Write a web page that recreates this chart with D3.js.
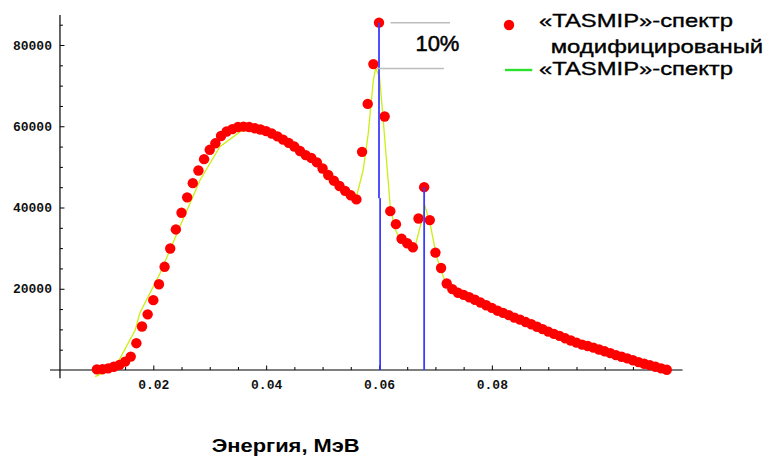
<!DOCTYPE html>
<html>
<head>
<meta charset="utf-8">
<script src="https://cdn.jsdelivr.net/npm/d3@7"></script>
<style>
  html, body { margin: 0; padding: 0; background: #fff; }
  svg { display: block; }
</style>
</head>
<body>
<svg id="chart" width="770" height="461"></svg>
<script>
// Photon energies of the modified spectrum points, keV
const dotEnergyKeV = [
  10, 11, 12, 13, 14, 15, 16, 17, 18, 19,
  20, 21, 22, 23, 24, 25, 26, 27, 28, 29,
  30, 31, 32, 33, 34, 35, 36, 37, 38, 39,
  40, 41, 42, 43, 44, 45, 46, 47, 48, 49,
  50, 51, 52, 53, 54, 55, 56, 57, 58, 59,
  60, 61, 62, 63, 64, 65, 66, 67, 68, 69,
  70, 71, 72, 73, 74, 75, 76, 77, 78, 79,
  80, 81, 82, 83, 84, 85, 86, 87, 88, 89,
  90, 91, 92, 93, 94, 95, 96, 97, 98, 99,
  100, 101, 102, 103, 104, 105, 106, 107, 108, 109,
  110, 111
];
// Modified TASMIP spectrum (red points)
const dotValue = [
  150, 200, 400, 800, 1250, 2050, 3300, 6600, 10700, 13700,
  17200, 21100, 25400, 29900, 34600, 38700, 42500, 46000, 49100, 51900,
  54200, 55800, 57600, 58700, 59300, 59800, 59900, 59800, 59500, 59200,
  58800, 58200, 57500, 56700, 55900, 55000, 53900, 52900, 52200, 51100,
  49600, 48000, 46600, 45300, 44100, 43000, 42000, 53700, 65500, 75300,
  85500, 62400, 39100, 35900, 32300, 31200, 30200, 37300, 45000, 36900,
  28900, 25100, 21300, 19900, 19000, 18500, 17900, 17300, 16600, 15950,
  15300, 14600, 14050, 13500, 12900, 12400, 11800, 11250, 10650, 10050,
  9450, 8900, 8400, 7800, 7250, 6750, 6250, 5900, 5500, 5050,
  4600, 4150, 3650, 3250, 2850, 2400, 1950, 1550, 1200, 800,
  400, 50
];
// Original TASMIP spectrum (thin line)
const tasmipEnergyKeV = [
  9.7, 12.9, 14.1, 16.8, 17.6, 21.2, 24.7, 28.3, 31.8, 35.4,
  37.1, 39, 41, 43, 45, 47, 49, 51, 53, 55,
  56.0, 57.2, 58.1, 59.0, 59.4, 60.1, 60.7, 62.0, 62.8, 63.7,
  65.0, 66.4, 67.3, 68.2, 69.1, 70.2, 71.4, 72.2, 73.5, 76.1,
  80, 85, 90, 95, 100, 105, 110, 111
];
const tasmipValue = [
  -1650, 420, 2870, 9850, 13950, 23800, 35270, 46770, 54970, 58660,
  59450, 58900, 58000, 56700, 54800, 52400, 50400, 47600, 45200, 42900,
  42660, 49230, 58260, 71380, 74260, 72200, 62350, 40200, 34880, 32000,
  31200, 30500, 35270, 40200, 35700, 27900, 22970, 20800, 19500, 17800,
  14800, 11700, 8700, 6200, 4300, 2200, 300, 0
];
// Characteristic line markers: energy (keV), lower and upper counts
const lineMarkKeV   = [60.0, 60.2, 68.0];
const lineMarkLow   = [42300, 0, 0];
const lineMarkHigh  = [85500, 42300, 45000];
// Reference levels for the 10% difference: level, from keV, to keV
const levelValue    = [85500, 74200];
const levelFromKeV  = [62.05, 59.6];
const levelToKeV    = [72.6, 71.5];
const levelLabel = "10%";

// Axis ticks
const xMajorTicks = [0.02, 0.04, 0.06, 0.08];
const xTickLabels = ["0.02", "0.04", "0.06", "0.08"];
const xMinorTicks = [0.01, 0.015, 0.025, 0.03, 0.035, 0.045, 0.05, 0.055,
  0.065, 0.07, 0.075, 0.085, 0.09, 0.095, 0.1, 0.105, 0.11];
const yMajorTicks = [20000, 40000, 60000, 80000];
const yTickLabels = ["20000", "40000", "60000", "80000"];
const yMinorTicks = [5000, 10000, 15000, 25000, 30000, 35000, 45000, 50000,
  55000, 65000, 70000, 75000, 85000];

const xTitle = "Энергия, МэВ";
const legendDots = ["«TASMIP»-спектр", "модифицированый"];
const legendLine = "«TASMIP»-спектр";

// Plot ranges (MeV / counts)
const xAxisExtent = [0.0017, 0.1138];
const yAxisExtent = [-2050, 87400];
const axesCrossX = 0.00346;

const svg = d3.select("#chart");
svg.append("rect").attr("width", 770).attr("height", 461).attr("fill", "#fff");

const x = d3.scaleLinear().domain([0.02, 0.06]).range([153.3, 379]);
const y = d3.scaleLinear().domain([0, 80000]).range([370, 45]);

const monoFont = "'Liberation Mono', 'DejaVu Sans Mono', monospace";
const sansFont = "'Liberation Sans', Arial, sans-serif";

// Axis lines
svg.append("line")
  .attr("x1", x(xAxisExtent[0])).attr("x2", x(xAxisExtent[1]))
  .attr("y1", y(0)).attr("y2", y(0))
  .attr("stroke", "#000").attr("stroke-width", 1.2);
svg.append("line")
  .attr("x1", x(axesCrossX)).attr("x2", x(axesCrossX))
  .attr("y1", y(yAxisExtent[0])).attr("y2", y(yAxisExtent[1]))
  .attr("stroke", "#000").attr("stroke-width", 1.2);

// X ticks (pointing up) and labels
const xMajor = svg.append("g").attr("transform", `translate(0,${y(0)})`)
  .call(d3.axisBottom(x).tickValues(xMajorTicks)
    .tickFormat((d, i) => xTickLabels[i]).tickSizeInner(-4.5).tickSizeOuter(0).tickPadding(10));
const xMinor = svg.append("g").attr("transform", `translate(0,${y(0)})`)
  .call(d3.axisBottom(x).tickValues(xMinorTicks).tickFormat("").tickSizeInner(-3).tickSizeOuter(0));

// Y ticks (pointing right) and labels
const yMajor = svg.append("g").attr("transform", `translate(${x(axesCrossX)},0)`)
  .call(d3.axisLeft(y).tickValues(yMajorTicks)
    .tickFormat((d, i) => yTickLabels[i]).tickSizeInner(-4.5).tickSizeOuter(0).tickPadding(8));
const yMinor = svg.append("g").attr("transform", `translate(${x(axesCrossX)},0)`)
  .call(d3.axisLeft(y).tickValues(yMinorTicks).tickFormat("").tickSizeInner(-3).tickSizeOuter(0));

[xMajor, xMinor, yMajor, yMinor].forEach(g => {
  g.select(".domain").remove();
  g.selectAll(".tick line").attr("stroke", "#000").attr("stroke-width", 1);
  g.selectAll(".tick text")
    .attr("fill", "#111")
    .style("font-family", monoFont)
    .style("font-weight", "bold")
    .style("font-size", "13px");
});

// Original TASMIP spectrum line
const tasmip = tasmipEnergyKeV.map((e, i) => ({ e: e / 1000, v: tasmipValue[i] }));
svg.append("path")
  .datum(tasmip)
  .attr("fill", "none")
  .attr("stroke", "#ccee10")
  .attr("stroke-width", 1.3)
  .attr("d", d3.line().x(d => x(d.e)).y(d => y(d.v)));

// Modified spectrum points
const dots = dotEnergyKeV.map((e, i) => ({ e: e / 1000, v: dotValue[i] }));
svg.append("g").selectAll("circle")
  .data(dots)
  .join("circle")
  .attr("cx", d => x(d.e))
  .attr("cy", d => y(d.v))
  .attr("r", 5.2)
  .attr("fill", "#ff0000");

// Characteristic line markers
svg.append("g").selectAll("line")
  .data(lineMarkKeV.map((e, i) => ({ e: e / 1000, lo: lineMarkLow[i], hi: lineMarkHigh[i] })))
  .join("line")
  .attr("x1", d => x(d.e)).attr("x2", d => x(d.e))
  .attr("y1", d => y(d.lo)).attr("y2", d => y(d.hi))
  .attr("stroke", "#3c3cff").attr("stroke-width", 1.8);

// 10% reference levels
svg.append("g").selectAll("line")
  .data(levelValue.map((v, i) => ({ v, a: levelFromKeV[i] / 1000, b: levelToKeV[i] / 1000 })))
  .join("line")
  .attr("x1", d => x(d.a)).attr("x2", d => x(d.b))
  .attr("y1", d => y(d.v)).attr("y2", d => y(d.v))
  .attr("stroke", "#bdbdbd").attr("stroke-width", 1.5);

svg.append("text")
  .attr("x", x(0.06645)).attr("y", 51)
  .attr("fill", "#000")
  .attr("stroke", "#000").attr("stroke-width", 0.5)
  .style("font-family", sansFont)
  .style("font-size", "22px")
  .text(levelLabel);

// Axis title
svg.append("text")
  .attr("x", 211.7).attr("y", 451.7)
  .attr("textLength", 148).attr("lengthAdjust", "spacingAndGlyphs")
  .attr("fill", "#000")
  .style("font-family", sansFont)
  .style("font-weight", "bold")
  .style("font-size", "17.5px")
  .text(xTitle);

// Legend
const legend = svg.append("g")
  .style("font-family", sansFont).style("font-size", "19px")
  .attr("fill", "#000");
legend.append("circle").attr("cx", 509).attr("cy", 25).attr("r", 5.2).attr("fill", "#ff0000");
const legendTexts = [
  { x: 539, y: 27, w: 194, t: legendDots[0] },
  { x: 550.7, y: 52.7, w: 212.5, t: legendDots[1] },
  { x: 539, y: 75, w: 194, t: legendLine }
];
legend.selectAll("text")
  .data(legendTexts)
  .join("text")
  .attr("x", d => d.x).attr("y", d => d.y)
  .attr("textLength", d => d.w).attr("lengthAdjust", "spacingAndGlyphs")
  .attr("stroke", "#000").attr("stroke-width", 0.35)
  .text(d => d.t);
legend.append("line")
  .attr("x1", 505).attr("x2", 532.3).attr("y1", 70).attr("y2", 70)
  .attr("stroke", "#2ee02e").attr("stroke-width", 2.4);
</script>
</body>
</html>
